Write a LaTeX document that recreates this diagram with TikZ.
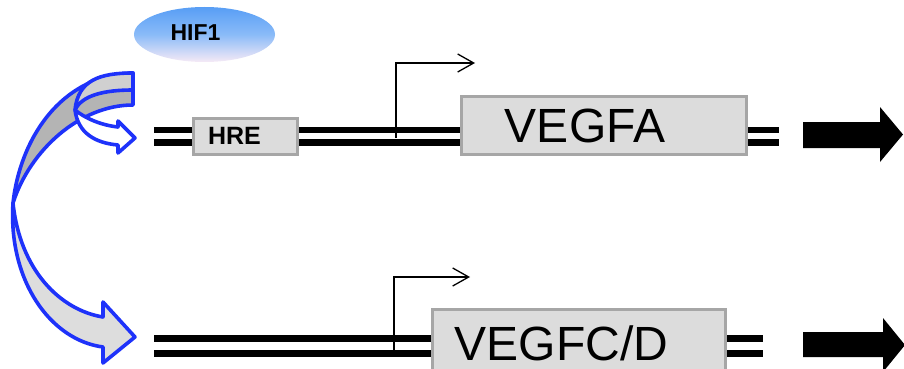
\documentclass[tikz,border=0pt]{standalone}
\usepackage{fontspec}
\setmainfont{Liberation Sans}
\usetikzlibrary{shapes.geometric,arrows.meta}
\definecolor{arrowblue}{RGB}{30,50,250}
\definecolor{backgray}{RGB}{180,180,180}
\definecolor{frontgray}{RGB}{221,221,221}
\definecolor{tailgray}{RGB}{208,208,208}
\definecolor{boxgray}{RGB}{220,220,220}
\definecolor{boxedge}{RGB}{166,166,166}
\definecolor{hiftop}{RGB}{88,158,245}
\definecolor{hifbot}{RGB}{246,234,246}
\begin{document}
\begin{tikzpicture}[x=1pt,y=-1pt,
  genebox/.style={draw=boxedge, line width=3pt, fill=boxgray, inner sep=0pt},
  strand/.style={line width=6.5pt, black},
  bandshape/.style={draw=arrowblue, line width=3.6pt, line join=round},
  tss/.style={line width=1.3pt, -{Straight Barb[length=16pt,width=18pt,line width=1.3pt]}},
  bigtext/.style={font=\fontsize{48}{48}\selectfont, inner sep=0pt, anchor=base},
  smalltext/.style={font=\bfseries\fontsize{25}{25}\selectfont, inner sep=0pt, anchor=base}]
\useasboundingbox (0,0) rectangle (904,369);

% double strands of the two loci
\draw[strand] (154,130) -- (779,130);
\draw[strand] (154,142.5) -- (779,142.5);
\draw[strand] (154,338.5) -- (763,338.5);
\draw[strand] (154,353.5) -- (763,353.5);

% transcription start sites
\coordinate (tssA) at (396,138);
\coordinate (tssAend) at (475,63);
\draw[tss] (tssA) |- (tssAend);
\coordinate (tssC) at (394,350);
\coordinate (tssCend) at (470,277);
\draw[tss] (tssC) |- (tssCend);

% gene and element boxes
\node[genebox, minimum width=104pt, minimum height=36pt] (hre) at (245,136) {};
\node[smalltext] (hrelabel) at (234.5,144.5) {HRE};
\node[genebox, minimum width=285pt, minimum height=58pt] (vegfa) at (603.5,125) {};
\node[bigtext] (vegfalabel) at (585,142) {VEGFA};
\node[genebox, minimum width=293pt, minimum height=68pt] (vegfc) at (578.5,343) {};
\node[bigtext] (vegfclabel) at (561.5,360) {VEGFC/D};

% HIF1 factor
\node[ellipse, minimum width=141pt, minimum height=55pt, inner sep=0pt,
      top color=hiftop, bottom color=hifbot, middle color=hiftop!70!white] (hif) at (204.5,34.5) {};
\node[smalltext, font=\bfseries\fontsize{23}{23}\selectfont] (hiflabel) at (195.5,40.7) {HIF1};

% large curved arrow: back part
\path[bandshape, fill=backgray]
  (133,73) .. controls (60,75) and (20,140) .. (13,203)
  .. controls (30,150) and (80,105) .. (133,105) -- cycle;
% large curved arrow: front part with head
\path[bandshape, fill=frontgray]
  (13,203) .. controls (8,280) and (50,340) .. (103,347)
  -- (103,363) -- (135,337) -- (103,302) -- (103,317)
  .. controls (60,310) and (20,270) .. (13,203) -- cycle;

% small curved arrow: back part
\path[bandshape, fill=tailgray]
  (133,73) .. controls (100,73) and (78,80) .. (75,110)
  .. controls (82,95) and (105,90) .. (133,90) -- cycle;
% small curved arrow: front part with head
\path[bandshape, fill=white]
  (75,110) .. controls (85,118) and (100,125) .. (118,127)
  -- (118,121) -- (135,138) -- (118,153) -- (118,145)
  .. controls (95,143) and (78,133) .. (75,110) -- cycle;

% expression arrows
\fill[black] (803,122) -- (880,122) -- (880,107) -- (903,134.5)
  -- (880,162) -- (880,148) -- (803,148) -- cycle;
\fill[black] (803,332) -- (883,332) -- (883,318) -- (905,345)
  -- (883,372) -- (883,357) -- (803,357) -- cycle;
\end{tikzpicture}
\end{document}
